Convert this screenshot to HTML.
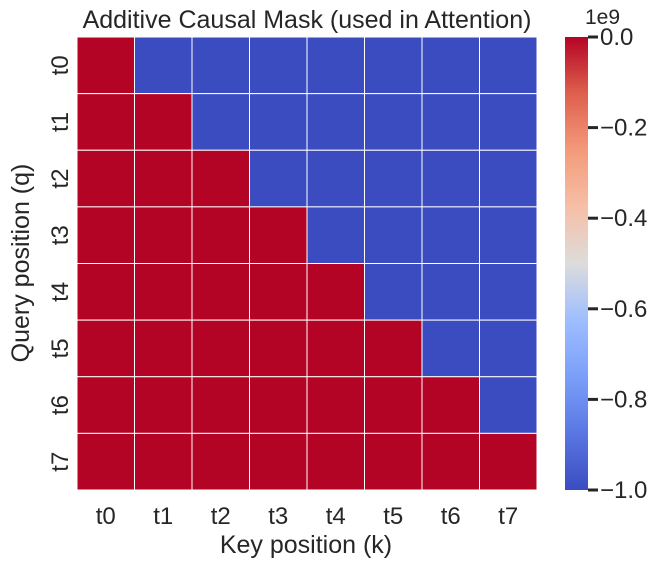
<!DOCTYPE html>
<html><head><meta charset="utf-8"><style>
body{margin:0;background:#fff;font-family:"Liberation Sans",sans-serif;}
svg text{font-family:"Liberation Sans",sans-serif;fill:#262626;}
</style></head><body>
<svg id="chart" width="660" height="566" xmlns="http://www.w3.org/2000/svg">
<defs><linearGradient id="cw" x1="0" y1="1" x2="0" y2="0">
<stop offset="0" stop-color="#3b4cc0"/><stop offset="0.125" stop-color="#5977e3"/><stop offset="0.25" stop-color="#7b9ff9"/><stop offset="0.375" stop-color="#9ebeff"/><stop offset="0.5" stop-color="#dddcdc"/><stop offset="0.625" stop-color="#f6bfa6"/><stop offset="0.75" stop-color="#f49a7b"/><stop offset="0.875" stop-color="#de604d"/><stop offset="1" stop-color="#b40426"/></linearGradient></defs>
<text x="307" y="28" font-size="25" text-anchor="middle">Additive Causal Mask (used in Attention)</text>
<g id="cells"></g><g id="xt"></g><g id="yt"></g>
<text x="306" y="553" font-size="25" text-anchor="middle">Key position (k)</text>
<text transform="translate(29,263) rotate(-90)" font-size="25" text-anchor="middle">Query position (q)</text>
<rect x="565" y="37" width="23" height="453" fill="url(#cw)"/>
<text x="585" y="24" font-size="21">1e9</text>
<g id="ct"></g>
</svg>
<script>
const labels=["t0","t1","t2","t3","t4","t5","t6","t7"];
const rowsMask=[
[0,-1,-1,-1,-1,-1,-1,-1],
[0,0,-1,-1,-1,-1,-1,-1],
[0,0,0,-1,-1,-1,-1,-1],
[0,0,0,0,-1,-1,-1,-1],
[0,0,0,0,0,-1,-1,-1],
[0,0,0,0,0,0,-1,-1],
[0,0,0,0,0,0,0,-1],
[0,0,0,0,0,0,0,0]];
const cbTicks=[0,-0.2,-0.4,-0.6,-0.8,-1.0];
const cbLabels=["0.0","\u22120.2","\u22120.4","\u22120.6","\u22120.8","\u22121.0"];
const NS="http://www.w3.org/2000/svg";
const L=77,T=37,W=460,H=453,n=labels.length,cw=W/n,ch=H/n;
const xs=i=>L+i*cw, ys=j=>T+j*ch, cy=v=>T+(0-v)/(0-(-1))*H;
function col(v){return v>-0.5?"#b40426":"#3b4cc0";}
const g=document.getElementById("cells");
rowsMask.forEach((row,j)=>row.forEach((v,i)=>{
 const r=document.createElementNS(NS,"rect");
 
 
 r.setAttribute("x",xs(i));r.setAttribute("y",ys(j));r.setAttribute("width",cw);r.setAttribute("height",ch);
 r.setAttribute("fill",col(v));r.setAttribute("stroke","#fff");r.setAttribute("stroke-width","1");
 g.appendChild(r);}));
const xt=document.getElementById("xt"),yt=document.getElementById("yt");
labels.forEach((l,i)=>{
 const t=document.createElementNS(NS,"text");
 
 
 t.setAttribute("x",xs(i)+cw/2);t.setAttribute("y",524);t.setAttribute("font-size","24");t.setAttribute("text-anchor","middle");t.textContent=l;xt.appendChild(t);
 const u=document.createElementNS(NS,"text");
 
 
 const yy=ys(i)+ch/2;
 u.setAttribute("transform",`translate(68,${yy}) rotate(-90)`);u.setAttribute("font-size","24");u.setAttribute("text-anchor","middle");u.textContent=l;yt.appendChild(u);
});
const ct=document.getElementById("ct");
cbTicks.forEach((v,k)=>{
 const y=cy(v);
 const ln=document.createElementNS(NS,"line");
 
 
 ln.setAttribute("x1",588);ln.setAttribute("x2",598);ln.setAttribute("y1",y);ln.setAttribute("y2",y);ln.setAttribute("stroke","#262626");ln.setAttribute("stroke-width","3");ct.appendChild(ln);
 const t=document.createElementNS(NS,"text");
 
 
 t.setAttribute("x",600);t.setAttribute("y",y+8);t.setAttribute("font-size","24");t.textContent=cbLabels[k];ct.appendChild(t);
});
</script>
</body></html>
